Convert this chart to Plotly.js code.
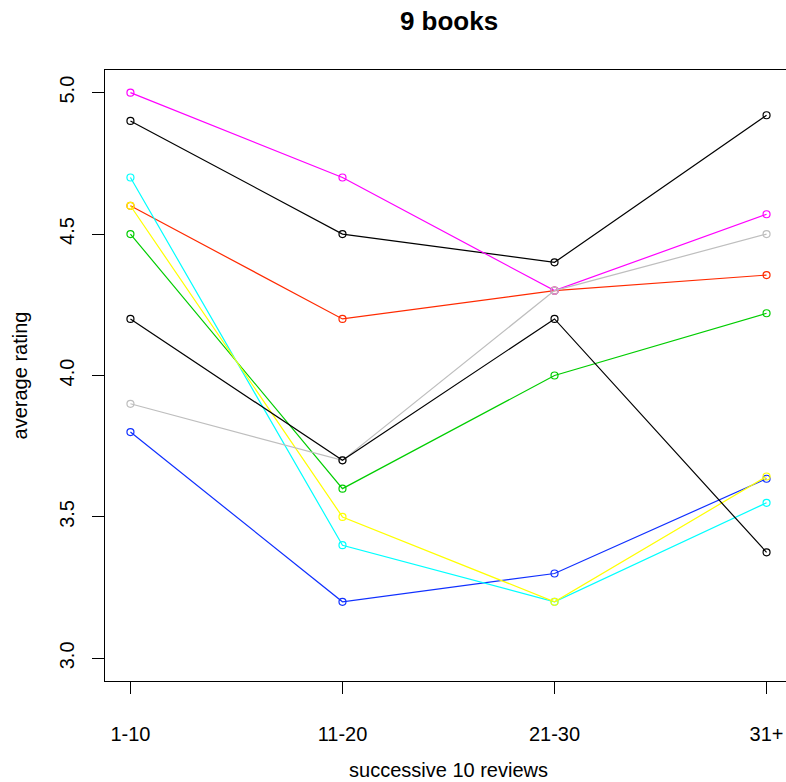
<!DOCTYPE html>
<html>
<head>
<meta charset="utf-8">
<script src="https://cdn.plot.ly/plotly-3.0.1.min.js"></script>
<style>
html, body { margin: 0; padding: 0; overflow: hidden; background: #fff; }
#chart { width: 800px; height: 782px; }
</style>
</head>
<body>
<div id="chart"></div>
<script>
// Data
const categories = ["1-10", "11-20", "21-30", "31+"];
const book1 = [4.9, 4.5, 4.4, 4.92];
const book2 = [4.6, 4.2, 4.3, 4.355];
const book3 = [4.5, 3.6, 4.0, 4.22];
const book4 = [3.8, 3.2, 3.3, 3.635];
const book5 = [4.7, 3.4, 3.2, 3.55];
const book6 = [5.0, 4.7, 4.3, 4.57];
const book7 = [4.6, 3.5, 3.2, 3.643];
const book8 = [3.9, 3.7, 4.3, 4.5];
const book9 = [4.2, 3.7, 4.2, 3.375];
const yTicks = [3.0, 3.5, 4.0, 4.5, 5.0];
const yTickText = ["3.0", "3.5", "4.0", "4.5", "5.0"];

const series = [book1, book2, book3, book4, book5, book6, book7, book8, book9];
const colors = ["#000000", "#FF2A00", "#00CD00", "#1030FF", "#00FFFF", "#FF00FF", "#FFFF00", "#BEBEBE", "#000000"];

const traces = series.map((ys, i) => ({
  x: categories,
  y: ys,
  type: "scatter",
  mode: "lines+markers",
  line: { color: colors[i], width: 1.2 },
  marker: { symbol: "circle-open", size: 7, color: colors[i], line: { width: 1.2, color: colors[i] } },
  showlegend: false,
  hoverinfo: "x+y"
}));

const fontFam = "Liberation Sans, Arial, sans-serif";

const layout = {
  width: 800,
  height: 782,
  margin: { l: 105, r: 8, t: 70, b: 101 },
  paper_bgcolor: "#ffffff",
  plot_bgcolor: "#ffffff",
  font: { family: fontFam, color: "#000000", size: 20 },
  title: {
    text: "<b>9 books</b>",
    font: { family: fontFam, size: 26, color: "#000000" },
    x: 449 / 800, xanchor: "center",
    y: 1 - 21 / 782, yanchor: "middle"
  },
  xaxis: {
    type: "category",
    range: [-0.12, 3.12],
    showgrid: false,
    zeroline: false,
    showline: true,
    linecolor: "#000000",
    linewidth: 1.3,
    mirror: true,
    ticks: "outside",
    ticklen: 12,
    tickwidth: 1,
    tickcolor: "#000000",
    ticklabelstandoff: 23,
    tickfont: { family: fontFam, size: 20, color: "#000000" },
    title: { text: "successive 10 reviews", font: { family: fontFam, size: 20, color: "#000000" }, standoff: 18 }
  },
  yaxis: {
    range: [2.92, 5.08],
    tickvals: yTicks,
    ticktext: yTickText,
    tickangle: -90,
    showgrid: false,
    zeroline: false,
    showline: true,
    linecolor: "#000000",
    linewidth: 1.3,
    mirror: true,
    ticks: "outside",
    ticklen: 12,
    tickwidth: 1,
    tickcolor: "#000000",
    ticklabelstandoff: 10,
    tickfont: { family: fontFam, size: 20, color: "#000000" },
    title: { text: "average rating", font: { family: fontFam, size: 20, color: "#000000" }, standoff: 22 }
  }
};

Plotly.newPlot("chart", traces, layout, { displayModeBar: false, staticPlot: true });
</script>
</body>
</html>
